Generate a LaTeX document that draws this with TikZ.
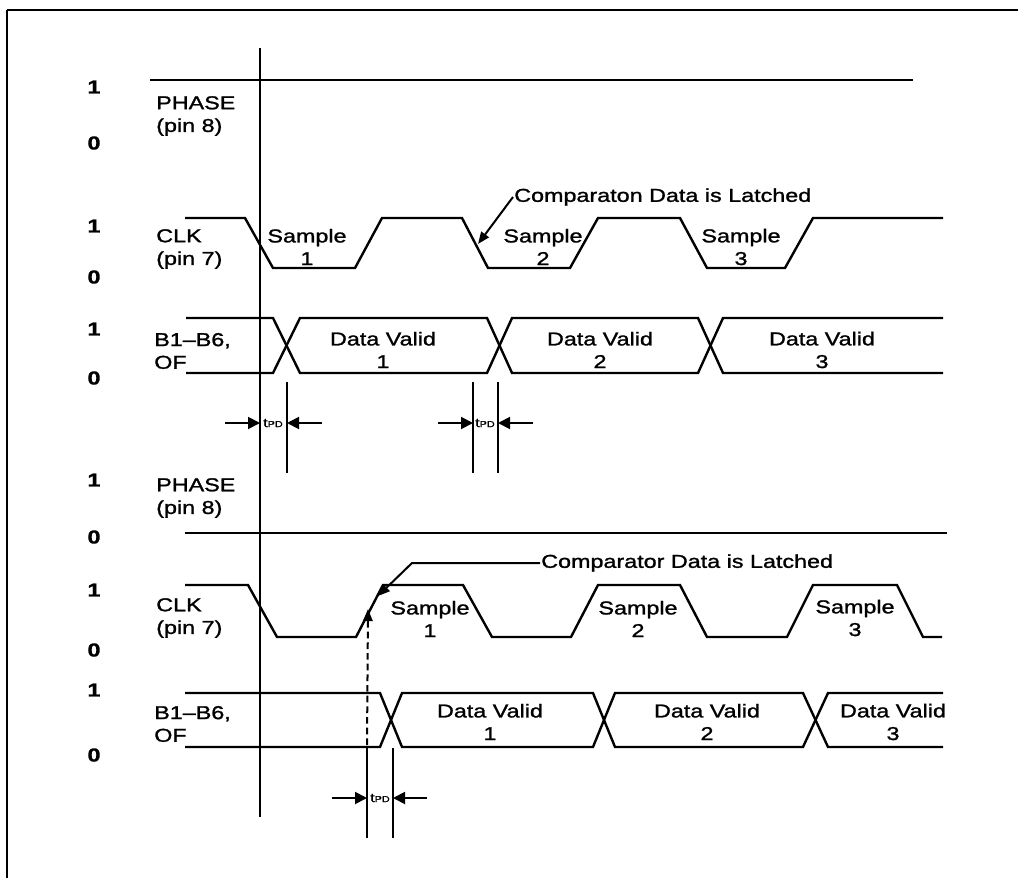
\documentclass[tikz,border=0pt]{standalone}
\usepackage{fontspec}
\setmainfont{Liberation Sans}[FakeStretch=1.25,FakeBold=1.3]
\usetikzlibrary{arrows.meta}

\begin{document}
\begin{tikzpicture}[x=0.75pt,y=0.75pt,yscale=-1,xscale=1,
  wave/.style={line width=1.8pt},
  rule/.style={line width=1.4pt},
  pin/.style={anchor=west,inner sep=0.75pt,align=left,font=\fontsize{14}{17}\selectfont},
  lvl/.style={inner sep=0.75pt,font=\fontsize{14}{17}\selectfont\bfseries},
  lab/.style={inner sep=0.75pt,align=center,font=\fontsize{14}{17}\selectfont},
  tpd/.style={inner sep=0pt},
  dim/.style={line width=1.4pt,-{Triangle[length=9pt,width=9pt]}},
  lead/.style={line width=1.5pt,-{Triangle[length=9pt,width=7pt]}}]
\useasboundingbox (0,0) rectangle (1018,878);

%Frame
\draw[line width=1.8pt] (7,10) -- (1018,10);
\draw[line width=1.2pt] (7,10) -- (7,878);

%Straight Lines (reference)
\draw[rule] (260,48) -- (260,817);

%Straight Lines (phase, upper)
\draw[wave] (150,80) -- (913,80);
%Straight Lines (clk, upper)
\draw[wave] (185,218) -- (245,218) -- (273,268) -- (355,268) -- (382,218) -- (462,218) -- (488,268) -- (570,268) -- (598,218) -- (680,218) -- (707,268) -- (785,268) -- (813,218) -- (943,218);
%Straight Lines (data, upper)
\draw[wave] (186,318) -- (273,318) -- (300,373) -- (487,373) -- (512,318) -- (698,318) -- (723,373) -- (943,373);
\draw[wave] (186,373) -- (273,373) -- (300,318) -- (487,318) -- (512,373) -- (698,373) -- (723,318) -- (943,318);

%Straight Lines (phase, lower)
\draw[wave] (185,533) -- (947,533);
%Straight Lines (clk, lower)
\draw[wave] (185,585) -- (248,585) -- (277,637) -- (356,637) -- (383,585) -- (463,585) -- (492,637) -- (571,637) -- (598,585) -- (680,585) -- (707,637) -- (787,637) -- (813,585) -- (897,585) -- (923,637) -- (942,637);
%Straight Lines (data, lower)
\draw[wave] (185,693) -- (380,693) -- (402,747) -- (593,747) -- (615,693) -- (803,693) -- (828,747) -- (943,747);
\draw[wave] (185,747) -- (380,747) -- (402,693) -- (593,693) -- (615,747) -- (803,747) -- (828,693) -- (943,693);

%Straight Lines (tpd marks)
\draw[rule] (287,382) -- (287,473);
\draw[rule] (473,382) -- (473,473);
\draw[rule] (498,382) -- (498,473);
\draw[rule] (367,748) -- (367,838);
\draw[rule] (393,748) -- (393,838);

% Text Node
\draw (94,87) node [lvl] (hiA) {1};
% Text Node
\draw (94,143) node [lvl] (loA) {0};
% Text Node
\draw (94,226) node [lvl] (hiB) {1};
% Text Node
\draw (94,277) node [lvl] (loB) {0};
% Text Node
\draw (94,329) node [lvl] (hiC) {1};
% Text Node
\draw (94,378) node [lvl] (loC) {0};
% Text Node
\draw (94,480) node [lvl] (hiD) {1};
% Text Node
\draw (94,537) node [lvl] (loD) {0};
% Text Node
\draw (94,590) node [lvl] (hiE) {1};
% Text Node
\draw (94,650) node [lvl] (loE) {0};
% Text Node
\draw (94,690) node [lvl] (hiF) {1};
% Text Node
\draw (94,755) node [lvl] (loF) {0};

% Text Node
\draw (155,116) node [pin] (phaseA) {PHASE\\(pin 8)};
% Text Node
\draw (155,249) node [pin] (clkA) {CLK\\(pin 7)};
% Text Node
\draw (153,351) node [pin] (busA) {B1--B6,\\OF};
% Text Node
\draw (155,498) node [pin] (phaseB) {PHASE\\(pin 8)};
% Text Node
\draw (155,618) node [pin] (clkB) {CLK\\(pin 7)};
% Text Node
\draw (153,724) node [pin] (busB) {B1--B6,\\OF};

% Text Node
\draw (307,247) node [lab] (smpA) {Sample\\1};
% Text Node
\draw (543,247) node [lab] (smpB) {Sample\\2};
% Text Node
\draw (741,247) node [lab] (smpC) {Sample\\3};
% Text Node
\draw (383,350) node [lab] (dvA) {Data Valid\\1};
% Text Node
\draw (600,350) node [lab] (dvB) {Data Valid\\2};
% Text Node
\draw (822,350) node [lab] (dvC) {Data Valid\\3};

% Text Node
\draw (430,619) node [lab] (smpD) {Sample\\1};
% Text Node
\draw (638,619) node [lab] (smpE) {Sample\\2};
% Text Node
\draw (855,618) node [lab] (smpF) {Sample\\3};
% Text Node
\draw (490,722) node [lab] (dvD) {Data Valid\\1};
% Text Node
\draw (707,722) node [lab] (dvE) {Data Valid\\2};
% Text Node
\draw (893,722) node [lab] (dvF) {Data Valid\\3};

% Text Node
\draw (513,197) node [anchor=west,inner sep=0.75pt,font=\fontsize{14}{17}\selectfont] (cmpA) {Comparaton Data is Latched};
% Text Node
\draw (540,563) node [anchor=west,inner sep=0.75pt,font=\fontsize{14}{17}\selectfont] (cmpB) {Comparator Data is Latched};

%Leaders
\coordinate (latchA) at (478,244);
\coordinate (kneeB) at (412,563);
\coordinate (latchB) at (378,596);
\draw[lead] (cmpA.west) -- (latchA);
\draw[lead] (cmpB.west) -- (kneeB) -- (latchB);
\coordinate (dashB) at (367,745);
\coordinate (edgeB) at (368,609);
\draw[lead,dash pattern=on 5pt off 3pt] (dashB) -- (edgeB);

% Text Node
\draw (273,423) node [tpd] (tpdA) {{\fontsize{9.5}{9}\selectfont t}{\fontsize{6.5}{7}\selectfont PD}};
% Text Node
\draw (485,423) node [tpd] (tpdB) {{\fontsize{9.5}{9}\selectfont t}{\fontsize{6.5}{7}\selectfont PD}};
% Text Node
\draw (380,798) node [tpd] (tpdC) {{\fontsize{9.5}{9}\selectfont t}{\fontsize{6.5}{7}\selectfont PD}};

%Arrows (tpd)
\coordinate (inA) at (225,423);
\coordinate (inB) at (322,423);
\coordinate (inC) at (438,423);
\coordinate (inD) at (533,423);
\coordinate (inE) at (332,798);
\coordinate (inF) at (427,798);
\draw[dim] (inA) -- (260,423);
\draw[dim] (inB) -- (287,423);
\draw[dim] (inC) -- (473,423);
\draw[dim] (inD) -- (498,423);
\draw[dim] (inE) -- (367,798);
\draw[dim] (inF) -- (393,798);

\end{tikzpicture}
\end{document}
